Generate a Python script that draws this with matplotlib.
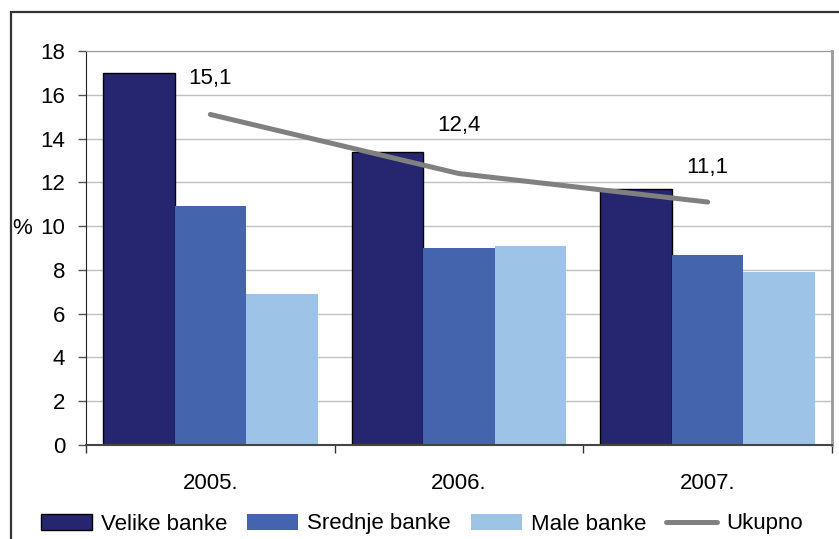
import numpy as np
import matplotlib.pyplot as plt
from matplotlib.patches import Rectangle
from matplotlib.ticker import FixedLocator

plt.rcParams["font.family"] = ["Liberation Sans", "DejaVu Sans"]

years = ["2005.", "2006.", "2007."]
velike = [17.0, 13.4, 11.7]
srednje = [10.9, 9.0, 8.7]
male = [6.9, 9.1, 7.9]
ukupno = [15.1, 12.4, 11.1]
ukupno_labels = ["15,1", "12,4", "11,1"]

series = [
    ("Velike banke", velike, "#262670", "black"),
    ("Srednje banke", srednje, "#4465AE", "none"),
    ("Male banke", male, "#9DC3E6", "none"),
]

fs = 16
fig = plt.figure(figsize=(8.39, 5.39), dpi=100)
ax = fig.add_axes([86 / 839, 1 - 445 / 539, (832 - 86) / 839, (445 - 51) / 539])

x = np.arange(len(years))
width = 1 / 3.475
handles = []
for i, (name, vals, col, edge) in enumerate(series):
    h = ax.bar(x + (i - 1) * width, vals, width=width, color=col,
               edgecolor=edge, linewidth=1.0 if edge != "none" else 0,
               label=name, zorder=2)
    handles.append(h)

line, = ax.plot(x, ukupno, color="#808080", lw=3.6, solid_capstyle="round",
                label="Ukupno", zorder=3)
handles.append(line)

# value labels for Ukupno, offsets in pixels above the point
offsets = [36, 48, 35]
for xi, v, lab, off in zip(x, ukupno, ukupno_labels, offsets):
    ax.annotate(lab, (xi, v), xytext=(0, off), textcoords="offset pixels",
                ha="center", va="center", fontsize=fs)

ax.set_xlim(-0.5, 2.5)
ax.set_ylim(0, 18)
ax.set_yticks(np.arange(0, 19, 2))
ax.yaxis.grid(True, color="#C0C0C0", lw=1.0, zorder=0)
ax.set_axisbelow(True)
ax.tick_params(axis="y", direction="out", length=6, width=1, color="#555555",
               labelsize=fs, pad=9)

ax.xaxis.set_major_locator(FixedLocator([-0.5, 0.5, 1.5, 2.5]))
ax.set_xticklabels([])
ax.set_xticks(x, years, minor=True)
ax.tick_params(axis="x", which="major", direction="out", length=6, width=1,
               color="#333333")
ax.tick_params(axis="x", which="minor", length=0, labelsize=fs, pad=20)

ax.spines["left"].set_color("#222222")
ax.spines["bottom"].set_color("#444444")
ax.spines["bottom"].set_linewidth(1.5)
ax.spines["right"].set_color("#999999")
ax.spines["right"].set_linewidth(2)
ax.spines["top"].set_color("#999999")

fig.text(22 / 839, 1 - 229 / 539, "%", fontsize=fs, ha="center", va="center")

fig.legend(handles=handles, labels=[h.get_label() for h in handles],
           loc="center", bbox_to_anchor=(422 / 839, 1 - 524 / 539), ncol=4,
           frameon=False, fontsize=fs, handlelength=2.3, handletextpad=0.4,
           columnspacing=0.9, handleheight=0.7)

# outer frame, open to the right and bottom
fig.patches.append(Rectangle((11 / 839, -0.1), 1.2, 1.1 - 12 / 539,
                             transform=fig.transFigure, fill=False,
                             edgecolor="#333333", lw=1.6))

fig.savefig("out.png", dpi=100)
